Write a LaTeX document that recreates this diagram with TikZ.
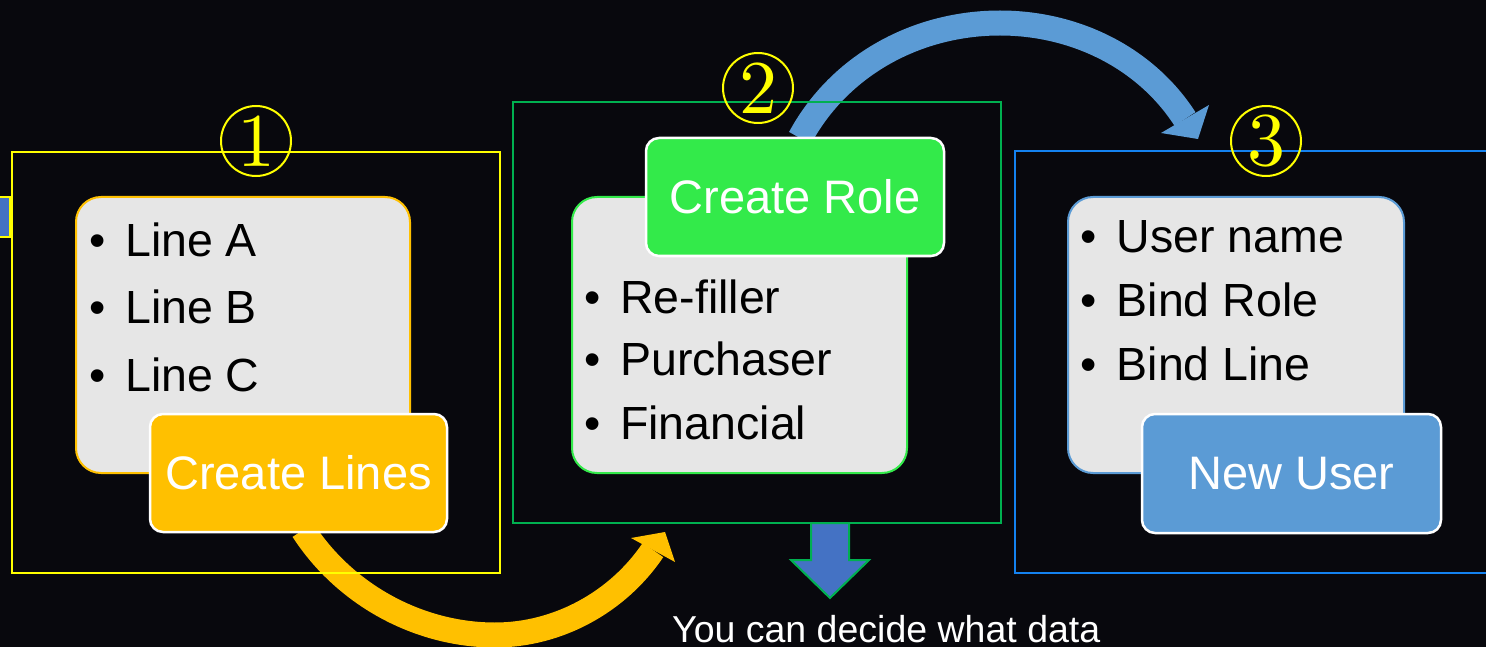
\documentclass[tikz,border=0pt]{standalone}
\usepackage{fontspec}
\newfontfamily\arial{Liberation Sans}
\newfontfamily\digitfont{lmroman10-regular}[Extension=.otf]
\definecolor{bg}{RGB}{8,8,13}
\definecolor{fyel}{RGB}{255,255,0}
\definecolor{fgrn}{RGB}{0,176,80}
\definecolor{fblu}{RGB}{20,130,240}
\definecolor{orng}{RGB}{255,192,0}
\definecolor{lgrn}{RGB}{51,234,74}
\definecolor{sblu}{RGB}{91,155,213}
\definecolor{dblu}{RGB}{68,114,196}
\definecolor{panecol}{RGB}{230,230,230}
\begin{document}
\begin{tikzpicture}[x=1pt,y=-1pt,
  frame/.style={draw, line width=2.5pt, inner sep=0pt, outer sep=0pt},
  pane/.style={draw, rounded corners=25pt, fill=panecol, line width=2pt, inner sep=0pt},
  tag/.style={rounded corners=13pt, draw=white, line width=2.5pt, inner sep=0pt,
    text=white, font=\arial\fontsize{47}{56}\selectfont},
  bul/.style={anchor=base, inner sep=0pt, font=\arial\fontsize{46.5}{56}\selectfont},
  item/.style={anchor=base west, inner sep=0pt, font=\arial\fontsize{46.5}{56}\selectfont},
  num/.style={circle, draw=fyel, line width=2pt, minimum size=70pt, inner sep=0pt,
    text=fyel, font=\digitfont\fontsize{76}{76}\selectfont},
  band/.style={line width=25pt}]
\useasboundingbox (0,0) rectangle (1486,647);
\fill[bg] (0,0) rectangle (1486,647);

% curved block arrows (under everything else)
\coordinate (ys) at (303,530);
\coordinate (ym) at (495,635);
\coordinate (ye) at (653,550);
\draw[band, orng] (ys) .. controls (345,595) and (419,635) .. (ym)
  .. controls (558,635) and (618,602) .. (ye);
\fill[orng] (631,538) -- (665,532) -- (675,562) -- cycle;

\coordinate (bs) at (800,138);
\coordinate (bm) at (1000,23);
\coordinate (be) at (1185,119);
\draw[band, sblu] (bs) .. controls (840,64) and (918,23) .. (bm)
  .. controls (1074,23) and (1145,57) .. (be);
\fill[sblu] (1161,133) -- (1209,105) -- (1198,139) -- cycle;

% left stub
\draw[fill=dblu, draw=fyel, line width=2pt] (-10,197) rectangle (10,237);

% frames
\node (f1) [frame, draw=fyel, minimum width=488pt, minimum height=421pt] at (256,362.5) {};
\node (f2) [frame, draw=fgrn, minimum width=488pt, minimum height=421pt] at (757,312.5) {};
\node (f3) [frame, draw=fblu, minimum width=485pt, minimum height=422pt] at (1257.5,362) {};

% down arrow
\draw[fill=dblu, draw=fgrn, line width=2pt]
  (811,523) -- (849,523) -- (849,560) -- (869,560) -- (830,598) -- (791,560) -- (811,560) -- cycle;

% panes
\node (p1) [pane, draw=orng, minimum width=334pt, minimum height=276pt] at (243,335) {};
\node (p2) [pane, draw=lgrn, minimum width=335pt, minimum height=276pt] at (739.5,335) {};
\node (p3) [pane, draw=sblu, minimum width=336pt, minimum height=276pt] at (1236,335) {};

% tags
\node (t1) [tag, fill=orng, minimum width=297pt, minimum height=118pt] at (298.5,473) {Create Lines};
\node (t2) [tag, fill=lgrn, minimum width=298pt, minimum height=118pt] at (795,197) {Create Role};
\node (t3) [tag, fill=sblu, minimum width=299pt, minimum height=119pt] at (1291.5,473.5) {New User};

% numbers
\node (n1) [num] at (256,141) {1};
\node (n2) [num] at (758,88) {2};
\node (n3) [num] at (1266,141) {3};

% lists
\node (b11) [bul] at (97.5,256) {\textbullet};
\node (l11) [item] at (125,256) {Line A};
\node (b12) [bul] at (97.5,323.5) {\textbullet};
\node (l12) [item] at (125,323.5) {Line B};
\node (b13) [bul] at (97.5,391) {\textbullet};
\node (l13) [item] at (125,391) {Line C};

\node (b21) [bul] at (593,313) {\textbullet};
\node (l21) [item] at (620,313) {Re-filler};
\node (b22) [bul] at (593,375.5) {\textbullet};
\node (l22) [item] at (620,375.5) {Purchaser};
\node (b23) [bul] at (593,439) {\textbullet};
\node (l23) [item] at (620,439) {Financial};

\node (b31) [bul] at (1089,253) {\textbullet};
\node (l31) [item] at (1116.5,253) {User name};
\node (b32) [bul] at (1089,316.5) {\textbullet};
\node (l32) [item] at (1116.5,316.5) {Bind Role};
\node (b33) [bul] at (1089,380) {\textbullet};
\node (l33) [item] at (1116.5,380) {Bind Line};

% bottom note
\node (note) [anchor=base west, inner sep=0pt, text=white, font=\arial\fontsize{37.5}{45}\selectfont]
  at (672,642) {You can decide what data};
\end{tikzpicture}
\end{document}
